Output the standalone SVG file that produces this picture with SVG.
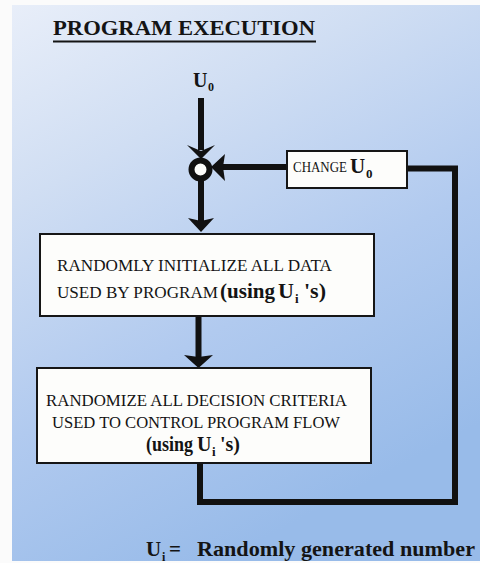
<svg xmlns="http://www.w3.org/2000/svg" width="480" height="563" viewBox="0 0 480 563">
<defs>
<linearGradient id="bg" x1="0" y1="0" x2="0.45" y2="1">
<stop offset="0" stop-color="#e8eef9"/>
<stop offset="0.3" stop-color="#d0def3"/>
<stop offset="0.65" stop-color="#b1caef"/>
<stop offset="1" stop-color="#98bbe9"/>
</linearGradient>
<style>
.box{fill:#fdfdfb;stroke:#161616;stroke-width:2}
.t{font-family:"Liberation Serif","Times New Roman",serif;fill:#141414}
.b{font-weight:bold}
.ln{fill:none;stroke:#111;stroke-width:6;stroke-linecap:butt;stroke-linejoin:miter}
.ah{fill:#111}
</style>
</defs>
<rect width="480" height="563" fill="#fbfbfb"/>
<rect x="12" y="5" width="468" height="556" fill="url(#bg)"/>

<g id="title">
<text class="t b" x="53" y="35" font-size="20" textLength="262" lengthAdjust="spacingAndGlyphs">PROGRAM EXECUTION</text>
<line x1="53" y1="41.5" x2="316" y2="41.5" stroke="#141414" stroke-width="2"/>
</g>

<g id="input-u0">
<text class="t b" x="193" y="87" font-size="20">U</text>
<text class="t b" x="208" y="91" font-size="12">0</text>
</g>

<g id="connectors">
<line class="ln" x1="201" y1="98" x2="201" y2="150"/>
<polygon class="ah" points="187,145 201,151 215,145 201,159"/>
<line class="ln" x1="201" y1="178" x2="201" y2="222"/>
<polygon class="ah" points="188,218 201,221 214,218 201,232"/>
<line class="ln" x1="288" y1="167" x2="222" y2="167"/>
<polygon class="ah" points="225,154 223,167 225,181 211,167"/>
<line class="ln" x1="198.5" y1="316" x2="198.5" y2="358"/>
<polygon class="ah" points="184,355 198.5,357 213,355 198.5,368"/>
<polyline class="ln" points="407,168.5 455,168.5 455,502 200,502"/>
<line class="ln" x1="200" y1="463" x2="200" y2="505"/>
</g>

<g id="junction">
<circle cx="200.5" cy="169.5" r="9" fill="#fdfdfb" stroke="#111" stroke-width="6"/>
</g>

<g id="change-u0">
<rect class="box" x="287" y="151" width="120" height="37"/>
<text class="t" x="293" y="172" font-size="14" textLength="54" lengthAdjust="spacingAndGlyphs">CHANGE</text>
<text class="t b" x="350" y="173" font-size="21">U</text>
<text class="t b" x="366" y="178" font-size="13">0</text>
</g>

<g id="init-box">
<rect class="box" x="40" y="234" width="334" height="82"/>
<text class="t" x="57" y="271" font-size="16" textLength="275" lengthAdjust="spacingAndGlyphs">RANDOMLY INITIALIZE  ALL DATA</text>
<text class="t" x="57" y="298" font-size="16" textLength="161" lengthAdjust="spacingAndGlyphs">USED BY PROGRAM</text>
<text class="t b" x="220" y="298" font-size="22" textLength="55" lengthAdjust="spacingAndGlyphs">(using</text>
<text class="t b" x="278" y="298" font-size="22">U</text>
<text class="t b" x="295" y="303" font-size="13">i</text>
<text class="t b" x="304" y="298" font-size="22">'s)</text>
</g>

<g id="decision-box">
<rect class="box" x="37" y="368" width="334" height="95"/>
<text class="t" x="46" y="406" font-size="16" textLength="301" lengthAdjust="spacingAndGlyphs">RANDOMIZE ALL DECISION CRITERIA</text>
<text class="t" x="52" y="428" font-size="16" textLength="288" lengthAdjust="spacingAndGlyphs">USED TO CONTROL PROGRAM FLOW</text>
<text class="t b" x="146" y="451" font-size="20" textLength="47" lengthAdjust="spacingAndGlyphs">(using</text>
<text class="t b" x="197" y="451" font-size="20">U</text>
<text class="t b" x="212" y="456" font-size="13">i</text>
<text class="t b" x="220" y="451" font-size="20">'s)</text>
</g>

<g id="legend">
<text class="t b" x="146" y="556" font-size="21">U</text>
<text class="t b" x="162" y="561" font-size="12">i</text>
<text class="t b" x="169" y="556" font-size="21">=</text>
<text class="t b" x="197" y="556" font-size="21" textLength="278" lengthAdjust="spacingAndGlyphs">Randomly generated number</text>
</g>
</svg>
